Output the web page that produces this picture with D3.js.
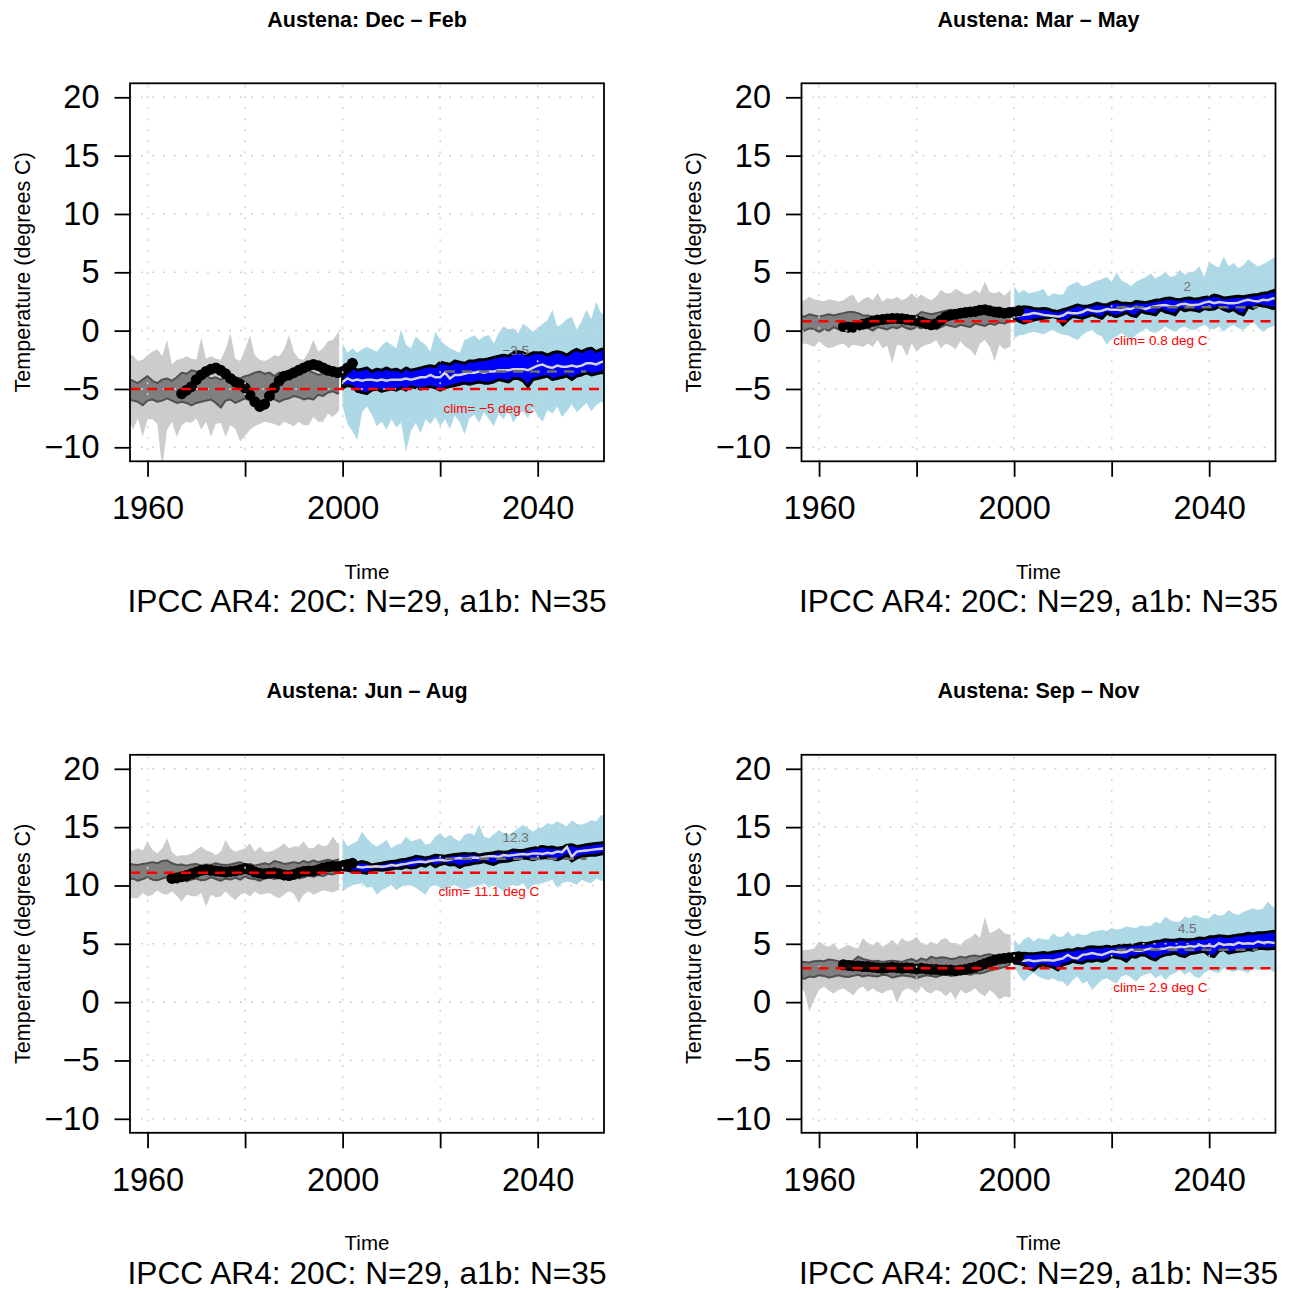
<!DOCTYPE html>
<html>
<head>
<meta charset="utf-8">
<title>Austena seasonal temperature, IPCC AR4</title>
<script src="https://cdn.jsdelivr.net/npm/d3@7"></script>
<style>
  body { margin: 0; background: #fff; }
  svg text { font-family: "Liberation Sans", Arial, Helvetica, sans-serif; fill: #000; }
</style>
</head>
<body>
<svg id="chart" width="1292" height="1291"></svg>
<script>
// years: 20C runs 1956-2000, a1b 2000-2054
const years20c = d3.range(1956, 2001);
const yearsA1b = d3.range(2000, 2055);

// ---- Dec - Feb ----
const djfGreyHi = [-2.2,-2.1,-2.6,-2.5,-2.1,-1.8,-1.6,-2.2,-0.8,-2.9,-2.5,-2.4,-2.2,-2.4,-2.5,-0.6,-2.4,-2.2,-2.4,-2.5,-1.6,-0.2,-2.4,-2.6,-1.6,-0.4,-2.1,-2.5,-2.6,-2.4,-2.1,-2.2,-1.6,-0.4,-1.8,-2.4,-2.5,-1.8,-0.8,-1.8,-1.5,-0.9,-0.8,-0.2,0.1];
const djfGreyLo = [-7.4,-8.5,-7.5,-9.1,-7.6,-7.6,-8.0,-11.8,-8.5,-7.8,-9.1,-8.1,-7.8,-7.9,-7.5,-8.5,-7.8,-9.1,-8.0,-7.9,-9.1,-8.1,-8.4,-9.5,-9.0,-8.5,-8.2,-8.0,-7.8,-7.9,-8.0,-8.2,-7.8,-8.0,-8.2,-7.8,-8.1,-8.1,-7.4,-7.8,-7.8,-7.1,-7.4,-7.0,-6.4];
const djfDarkHi = [-4.1,-4.3,-4.5,-4.2,-3.9,-4.3,-4.5,-4.2,-4.1,-4.3,-4.0,-3.6,-3.7,-3.4,-3.5,-3.6,-3.9,-4.1,-4.0,-4.2,-4.0,-3.8,-4.0,-4.1,-3.9,-3.8,-3.6,-3.5,-3.7,-3.6,-3.9,-3.6,-3.8,-4.1,-3.8,-3.6,-3.5,-3.4,-3.6,-3.8,-3.7,-3.6,-3.5,-3.6,-3.7];
const djfDarkLo = [-5.9,-6.0,-6.1,-6.4,-6.0,-5.9,-6.1,-6.0,-5.8,-6.0,-6.2,-6.1,-6.2,-6.4,-6.2,-6.1,-6.0,-5.9,-6.2,-6.6,-6.0,-5.9,-6.2,-6.0,-5.8,-6.0,-6.1,-6.0,-6.2,-5.6,-5.9,-6.1,-5.9,-5.8,-5.6,-5.7,-5.9,-5.8,-5.9,-5.5,-5.6,-5.3,-5.2,-5.4,-5.3];
const djfCyanHi = [-1.1,-1.9,-1.5,-1.9,-1.6,-1.4,-1.6,-1.8,-1.3,-0.9,-1.2,-1.5,0.1,-1.2,-1.5,-0.5,-0.9,-1.2,-1.8,-0.1,-0.8,-1.2,-1.5,-1.7,-1.9,-0.8,-0.6,-0.4,-0.8,-0.5,-0.4,-1.1,-0.2,0.35,0.1,0.2,-0.2,0.6,0.3,-0.1,0.2,0.6,0.9,1.8,0.35,0.6,1.0,1.2,0.1,0.8,1.8,1.0,2.5,1.5,1.4];
const djfCyanLo = [-6.5,-8.0,-8.6,-9.4,-7.0,-6.5,-7.2,-8.2,-7.8,-8.5,-7.6,-8.3,-7.9,-10.4,-8.6,-7.9,-8.8,-7.6,-8.0,-7.4,-8.2,-7.6,-8.4,-7.3,-7.8,-8.9,-7.5,-7.2,-7.9,-7.0,-7.6,-8.2,-7.1,-7.6,-6.8,-7.9,-7.2,-6.9,-7.5,-6.6,-7.3,-7.8,-6.8,-7.1,-6.5,-7.4,-6.9,-6.3,-7.0,-6.6,-6.2,-6.9,-6.4,-6.1,-6.3];
const djfBlueHi = [-3.5,-3.3,-3.1,-3.4,-3.3,-3.2,-3.5,-3.3,-3.4,-3.2,-3.4,-3.3,-3.5,-3.2,-3.4,-3.3,-3.2,-3.1,-3.0,-3.1,-2.7,-2.8,-2.9,-2.6,-2.7,-2.8,-2.6,-2.6,-2.5,-2.5,-2.4,-2.3,-2.2,-2.1,-2.2,-1.9,-1.8,-1.9,-2.1,-1.9,-1.9,-1.9,-2.1,-1.9,-1.8,-1.9,-2.1,-1.8,-1.6,-1.8,-1.6,-1.5,-1.8,-1.6,-1.6];
const djfBlueLo = [-4.9,-4.7,-4.8,-5.2,-5.3,-5.4,-5.1,-5.0,-5.2,-5.1,-5.0,-5.1,-4.9,-5.1,-4.8,-4.9,-5.0,-4.9,-4.8,-4.9,-5.1,-4.9,-4.8,-4.7,-4.6,-4.5,-4.6,-4.5,-4.4,-4.5,-4.5,-4.4,-4.2,-4.3,-4.4,-4.1,-4.1,-4.3,-4.8,-4.2,-4.1,-4.0,-3.9,-4.2,-4.1,-4.0,-3.9,-4.2,-3.9,-3.8,-3.6,-3.8,-3.7,-3.6,-3.6];
const djfMean = [-4.4,-4.1,-4.3,-4.2,-4.3,-4.2,-4.2,-4.3,-4.2,-4.3,-4.2,-4.2,-4.2,-4.1,-4.2,-4.1,-4.0,-4.0,-3.8,-4.0,-4.0,-3.6,-4.1,-3.8,-3.8,-3.7,-3.6,-3.6,-3.5,-3.6,-3.5,-3.5,-3.4,-3.4,-3.4,-3.3,-3.3,-3.3,-3.4,-3.2,-3.0,-2.9,-3.1,-3.2,-3.0,-3.1,-3.1,-3.0,-3.1,-3.0,-2.8,-2.8,-2.9,-2.7,-2.6];
const djfObs = [-5.4,-5.1,-4.8,-4.2,-3.8,-3.5,-3.3,-3.2,-3.4,-3.7,-4.1,-4.4,-4.6,-4.9,-5.5,-6.1,-6.5,-6.3,-5.6,-4.9,-4.3,-3.9,-3.8,-3.6,-3.4,-3.2,-3.0,-2.9,-3.0,-3.2,-3.4,-3.5,-3.6,-3.5,-3.2,-2.8];

// ---- Mar - May ----
const mamGreyHi = [2.5,2.6,2.9,2.7,2.6,2.5,2.7,2.6,2.5,2.6,2.9,3.1,2.35,2.7,2.9,2.6,3.2,2.5,2.8,2.7,2.9,2.6,2.8,3.2,2.8,3.1,2.8,2.6,2.9,3.5,3.2,3.2,3.6,3.35,3.1,3.2,3.5,3.2,4.2,3.3,3.2,3.35,3.0,3.4,3.9];
const mamGreyLo = [-1.2,-1.1,-1.2,-1.4,-0.9,-1.3,-1.5,-1.4,-1.2,-1.1,-1.5,-1.2,-1.3,-1.4,-1.1,-1.4,-0.8,-1.5,-1.3,-2.8,-1.2,-1.3,-2.2,-1.1,-1.8,-1.4,-1.2,-1.1,-0.8,-1.5,-1.1,-1.3,-1.6,-0.9,-1.4,-1.6,-2.2,-1.1,-0.8,-1.4,-2.6,-1.2,-1.6,-1.4,-1.0];
const mamDarkHi = [1.3,1.2,1.4,1.3,1.2,1.3,1.4,1.3,1.4,1.5,1.6,1.6,1.5,1.3,1.3,1.2,1.3,1.2,1.3,1.2,1.3,1.4,1.3,1.2,1.3,1.6,1.5,1.4,1.5,1.6,1.7,1.8,1.7,1.8,1.6,1.8,1.7,1.9,1.9,2.0,1.9,2.0,1.8,1.9,2.0];
const mamDarkLo = [0.1,0.0,0.2,0.1,-0.1,0.1,0.0,0.3,0.1,0.2,-0.1,0.2,0.1,0.3,0.2,0.0,0.3,0.2,0.1,0.3,0.2,0.4,0.2,0.1,0.3,0.2,0.4,0.3,0.1,0.3,0.5,0.4,0.3,0.5,0.4,0.3,0.6,0.5,0.4,0.6,0.5,0.7,0.6,0.8,0.7];
const mamCyanHi = [3.8,3.2,3.5,3.2,3.3,3.4,3.6,2.9,3.2,3.1,3.1,3.8,4.0,4.2,3.8,3.9,4.1,4.3,4.4,4.6,4.2,5.0,4.3,4.1,3.8,4.2,4.4,4.6,4.9,4.5,4.7,5.0,4.6,4.7,5.2,4.8,5.0,5.1,5.5,4.6,5.9,5.6,5.4,6.35,5.5,5.8,5.35,5.6,6.1,5.8,5.5,5.7,5.9,6.2,6.2];
const mamCyanLo = [-0.65,-0.4,-0.35,-0.2,-0.1,-0.2,-0.3,-0.1,0.05,-0.2,-0.35,-0.4,-0.6,-0.8,-0.35,-0.1,0.05,-0.3,-0.5,-1.2,-0.7,-0.5,-0.2,-0.5,-0.8,-0.35,-0.1,0.2,-0.1,-0.2,0.05,0.35,0.1,-0.1,0.2,0.35,0.1,0.05,0.3,0.5,0.2,0.1,0.35,-0.1,0.3,0.5,0.2,0.05,0.4,0.8,0.3,-0.1,0.2,0.35,0.65];
const mamBlueHi = [1.9,1.95,2.05,2.0,1.9,1.85,1.9,1.85,1.7,1.65,1.8,1.9,2.05,2.2,2.1,2.1,2.2,2.35,2.25,2.2,2.4,2.5,2.35,2.35,2.3,2.5,2.45,2.4,2.5,2.6,2.65,2.75,2.8,2.7,2.65,2.75,2.8,2.7,2.75,2.85,2.9,3.05,2.95,2.8,2.85,2.9,2.95,2.9,3.0,3.05,3.1,3.2,3.25,3.4,3.5];
const mamBlueLo = [1.05,0.8,0.65,0.8,0.9,1.0,1.05,1.1,1.2,1.05,0.5,0.9,1.2,1.15,1.05,1.2,1.35,1.2,1.05,1.5,1.3,1.2,1.35,1.55,1.3,1.2,1.65,1.5,1.45,1.35,1.8,1.6,1.5,1.35,1.9,1.7,1.8,1.75,1.65,1.9,1.8,1.85,2.05,1.8,1.65,1.8,1.5,1.35,2.05,1.9,2.2,2.1,2.05,1.9,1.95];
const mamMean = [1.2,1.3,1.35,1.4,1.5,1.45,1.35,1.3,1.25,1.2,1.3,1.55,1.5,1.5,1.6,1.8,1.7,1.65,1.7,1.85,1.8,1.8,1.75,1.9,1.85,2.05,1.95,1.85,2.0,2.1,2.15,2.2,2.1,2.05,2.25,2.3,2.2,2.2,2.25,2.4,2.5,2.35,2.45,2.4,2.35,2.35,2.4,2.55,2.65,2.55,2.5,2.65,2.6,2.75,2.8];
const mamObs = [0.35,0.3,0.3,0.45,0.55,0.65,0.8,0.9,0.95,1.0,1.05,1.05,1.0,0.95,0.9,0.85,0.75,0.6,0.5,0.6,0.9,1.2,1.35,1.4,1.5,1.55,1.6,1.65,1.75,1.8,1.7,1.6,1.55,1.5,1.55,1.6,1.7];

// ---- Jun - Aug ----
const jjaGreyHi = [12.9,13.0,13.2,13.0,13.8,13.05,12.75,13.2,14.05,12.9,12.5,12.6,12.6,12.75,13.05,13.35,13.0,12.9,12.6,12.9,13.9,13.2,12.9,13.05,13.2,13.6,12.9,13.35,12.9,12.9,13.05,13.3,13.6,13.2,13.35,13.35,13.8,13.2,13.2,13.6,13.35,13.5,14.2,13.6,13.8];
const jjaGreyLo = [9.05,8.9,8.9,9.35,9.05,9.2,9.6,9.3,9.2,9.5,9.1,8.6,9.2,9.1,9.05,9.35,8.2,9.2,9.0,9.05,9.5,9.05,8.75,9.2,9.35,9.05,9.5,9.2,9.3,9.35,9.1,8.9,9.2,9.5,9.3,8.5,9.2,9.5,9.2,9.4,9.6,9.5,9.4,9.6,9.7];
const jjaDarkHi = [11.9,11.8,11.75,11.85,11.9,12.0,11.9,12.1,12.15,11.9,11.75,11.8,11.7,11.8,11.85,11.7,11.8,11.75,11.9,11.8,11.75,11.8,11.9,12.0,11.8,11.85,11.7,11.8,11.9,11.8,12.1,12.0,11.85,11.9,12.0,11.9,12.1,11.95,12.15,12.0,12.1,12.2,12.1,12.2,12.3];
const jjaDarkLo = [10.5,10.6,10.4,10.55,10.7,10.5,10.45,10.6,10.7,10.5,10.4,10.55,10.35,10.5,10.6,10.45,10.5,10.7,10.55,10.4,10.6,10.5,10.65,10.5,10.75,10.6,10.55,10.4,10.6,10.7,10.55,10.65,10.5,10.75,10.8,10.6,10.7,10.85,10.75,10.9,10.8,11.0,10.95,11.1,11.2];
const jjaCyanHi = [14.05,13.35,13.6,13.8,14.6,14.0,13.6,13.35,13.6,13.9,13.2,13.5,13.6,14.2,13.8,13.9,14.05,13.5,13.6,14.2,14.5,14.05,14.35,14.0,13.8,14.35,14.5,14.3,15.2,14.2,14.05,14.4,14.75,14.5,14.35,14.6,14.9,15.2,14.9,14.6,14.9,15.0,15.35,15.2,15.5,15.3,15.05,15.6,15.3,15.2,15.35,15.6,15.5,16.05,16.0];
const jjaCyanLo = [9.5,9.8,10.05,10.1,10.2,9.8,9.9,9.2,9.6,9.8,10.05,9.6,9.9,10.05,10.0,9.8,9.5,9.2,9.9,10.05,9.8,9.6,9.9,10.05,9.8,9.6,9.8,9.9,10.0,10.2,9.8,10.05,9.8,9.5,9.9,10.05,9.95,10.2,9.6,10.05,10.1,10.2,10.35,10.5,9.8,10.2,10.35,10.25,10.05,10.5,10.3,10.2,10.6,10.4,10.35];
const jjaBlueHi = [12.05,11.95,11.9,11.95,12.05,11.95,11.75,11.85,11.9,12.0,12.05,12.1,12.2,12.25,12.35,12.5,12.45,12.35,12.45,12.6,12.55,12.5,12.6,12.65,12.7,12.75,12.7,12.75,12.6,12.7,12.75,12.8,12.9,12.85,12.9,13.05,13.0,13.0,13.1,13.2,13.25,13.35,13.25,13.3,13.2,13.25,13.45,13.5,13.35,13.4,13.5,13.55,13.6,13.65,13.7];
const jjaBlueLo = [11.35,11.3,11.2,11.25,11.1,11.05,11.3,11.35,11.3,11.35,11.4,11.5,11.45,11.6,11.5,11.55,11.75,11.65,11.9,11.6,11.8,11.9,11.75,11.8,11.55,11.75,11.8,11.9,11.95,12.05,11.9,11.8,12.0,12.05,12.1,12.2,12.25,12.35,12.3,12.2,12.3,12.35,12.4,12.3,12.2,12.35,12.6,12.1,12.35,12.5,12.55,12.6,12.6,12.7,12.75];
const jjaMean = [11.6,11.7,11.75,11.6,11.55,11.6,11.6,11.65,11.6,11.65,11.75,11.7,11.8,11.85,11.95,12.0,12.05,12.0,12.1,12.15,12.2,12.15,12.2,12.3,12.35,12.3,12.35,12.4,12.35,12.45,12.5,12.5,12.45,12.6,12.55,12.6,12.65,12.7,12.65,12.75,12.75,12.7,12.8,12.75,12.9,12.85,13.3,12.45,12.9,12.95,13.0,13.05,13.1,13.15,13.2];
const jjaObs = [10.6,10.65,10.75,10.85,11.0,11.15,11.3,11.35,11.3,11.25,11.2,11.15,11.2,11.25,11.35,11.45,11.35,11.15,11.05,11.0,11.05,11.1,11.0,10.9,10.85,10.95,11.1,11.2,11.25,11.25,11.35,11.5,11.6,11.65,11.6,11.7,11.8,11.9];

// ---- Sep - Nov ----
const sonGreyHi = [4.5,4.45,4.5,4.6,5.2,4.9,4.75,5.05,4.5,4.7,4.9,4.7,4.6,5.5,5.05,4.9,5.2,4.75,5.0,5.35,4.9,5.5,5.2,5.3,5.6,5.05,4.9,5.2,4.9,5.35,5.5,5.1,5.05,4.9,5.35,5.5,5.9,5.5,7.3,5.9,6.1,6.35,5.9,5.8,5.9];
const sonGreyLo = [1.35,0.9,-0.8,0.2,1.05,1.35,1.0,0.75,1.05,1.2,0.9,0.6,1.1,1.35,0.9,1.2,0.9,0.75,1.0,1.05,-0.1,0.9,1.2,1.05,0.75,1.35,0.9,0.75,1.05,0.9,0.5,0.9,0.2,1.05,0.75,0.9,1.2,0.75,0.5,1.05,0.7,0.2,0.5,0.4,0.5];
const sonDarkHi = [3.5,3.45,3.4,3.5,3.55,3.5,3.65,3.6,3.5,3.45,3.5,3.55,3.9,3.7,3.6,3.5,3.55,3.45,3.5,3.55,3.5,3.45,3.6,3.7,3.5,3.75,3.6,3.9,3.75,3.85,3.8,3.7,3.75,3.9,3.8,3.95,4.0,3.9,4.05,4.1,4.0,4.05,4.1,4.0,4.15];
const sonDarkLo = [2.1,2.0,2.2,2.15,2.3,2.25,2.1,2.2,2.3,2.2,2.15,2.25,2.35,2.2,2.3,2.25,2.2,2.35,2.3,2.1,2.2,2.3,2.25,2.2,2.05,2.2,2.3,2.25,2.15,2.3,2.35,2.25,2.3,2.4,2.45,2.35,2.5,2.45,2.55,2.7,2.8,2.9,3.0,3.2,3.3];
const sonCyanHi = [5.35,4.9,5.4,5.6,5.2,5.5,5.4,5.35,5.9,5.6,5.6,6.05,5.6,5.9,5.75,5.8,6.05,6.1,6.2,6.1,6.35,6.2,6.3,6.5,6.4,6.35,6.6,6.5,6.55,6.9,6.75,7.35,7.05,6.9,6.9,7.35,7.2,7.5,7.35,7.2,7.2,7.6,7.4,7.5,7.9,7.6,7.5,7.75,7.9,8.05,7.9,8.0,8.6,8.2,7.9];
const sonCyanLo = [3.05,2.35,1.75,2.2,2.5,2.2,2.0,1.9,2.05,1.8,1.75,1.35,1.9,2.2,1.6,1.8,1.05,1.5,1.9,2.05,1.8,1.6,2.2,2.35,2.1,1.75,2.2,2.4,2.5,2.05,2.35,1.9,2.3,2.5,2.75,2.35,2.6,2.2,2.05,2.5,2.75,2.6,2.5,2.9,2.75,2.6,2.75,2.65,2.5,2.9,2.75,2.8,3.05,2.6,2.7];
const sonBlueHi = [4.05,4.1,4.2,4.15,4.15,4.2,4.25,4.2,4.3,4.35,4.4,4.5,4.45,4.6,4.55,4.7,4.75,4.7,4.7,4.8,4.75,4.8,4.9,4.85,4.9,4.95,5.05,5.0,5.1,5.2,5.25,5.35,5.3,5.3,5.4,5.35,5.35,5.4,5.5,5.45,5.6,5.6,5.7,5.65,5.6,5.7,5.75,5.8,5.9,5.85,5.95,5.95,6.0,6.05,6.1];
const sonBlueLo = [3.35,3.3,3.2,2.9,2.75,3.1,3.2,3.05,3.0,2.75,3.2,3.3,3.5,3.4,3.35,3.55,3.5,3.6,3.5,3.6,3.9,3.8,3.75,3.5,3.9,3.85,4.05,4.0,3.75,3.6,3.9,4.05,4.1,4.2,4.0,3.9,4.15,4.2,4.3,4.35,4.0,3.9,4.4,4.5,4.2,4.3,4.35,4.4,4.5,4.45,4.6,4.6,4.55,4.6,4.6];
const sonMean = [3.6,3.6,3.55,3.6,3.5,3.55,3.6,3.6,3.55,3.65,3.75,4.05,3.8,3.75,4.05,4.1,4.2,4.1,4.05,4.2,4.35,4.3,4.25,4.3,4.5,4.4,4.4,4.5,4.6,4.5,4.55,4.6,4.7,4.65,4.75,4.7,4.8,4.75,4.9,4.8,4.85,4.75,5.05,4.9,4.95,4.9,5.1,5.0,5.05,5.0,5.2,5.1,5.15,5.1,5.1];
const sonObs = [3.2,3.15,3.1,3.1,3.05,3.05,3.0,2.95,2.9,2.95,3.0,2.95,2.9,2.95,2.9,2.85,2.9,2.85,2.8,2.8,2.75,2.75,2.75,2.7,2.75,2.8,2.9,3.0,3.15,3.3,3.45,3.6,3.7,3.75,3.8,3.85,3.9];

// per-panel scalars
const seasonTitles = ['Austena: Dec \u2013 Feb', 'Austena: Mar \u2013 May', 'Austena: Jun \u2013 Aug', 'Austena: Sep \u2013 Nov'];
const climValues = [-5, 0.8, 11.1, 2.9];
const futureMeans = [-3.5, 2, 12.3, 4.5];
const obsStartYears = [1967, 1965, 1965, 1965];
const yTicks = [-10, -5, 0, 5, 10, 15, 20];
const xTicks = [1960, 1980, 2000, 2020, 2040];
const xLabelled = [1960, 2000, 2040];
const subtitle = 'IPCC AR4: 20C: N=29, a1b: N=35';

const panels = [
  { grey: [djfGreyLo, djfGreyHi], dark: [djfDarkLo, djfDarkHi], cyan: [djfCyanLo, djfCyanHi], blue: [djfBlueLo, djfBlueHi], mean: djfMean, obs: djfObs },
  { grey: [mamGreyLo, mamGreyHi], dark: [mamDarkLo, mamDarkHi], cyan: [mamCyanLo, mamCyanHi], blue: [mamBlueLo, mamBlueHi], mean: mamMean, obs: mamObs },
  { grey: [jjaGreyLo, jjaGreyHi], dark: [jjaDarkLo, jjaDarkHi], cyan: [jjaCyanLo, jjaCyanHi], blue: [jjaBlueLo, jjaBlueHi], mean: jjaMean, obs: jjaObs },
  { grey: [sonGreyLo, sonGreyHi], dark: [sonDarkLo, sonDarkHi], cyan: [sonCyanLo, sonCyanHi], blue: [sonBlueLo, sonBlueHi], mean: sonMean, obs: sonObs }
];

const minus = v => String(v).replace('-', '\u2212');

const svg = d3.select('#chart');
const step = 671.5;

panels.forEach((p, k) => {
  const ox = (k % 2) * step, oy = Math.floor(k / 2) * step;
  const left = 130 + ox, right = 604 + ox, top = 83.3 + oy, bottom = 461.3 + oy;

  const x = d3.scaleLinear().domain([1956.4, 2053.6]).range([left, right]);
  const y = d3.scaleLinear().domain([-11.2, 21.2]).range([bottom, top]);

  const g = svg.append('g');
  const defs = g.append('defs');
  defs.append('clipPath').attr('id', 'box' + k)
    .append('rect').attr('x', left).attr('y', top).attr('width', right - left).attr('height', bottom - top);
  defs.append('clipPath').attr('id', 'c20' + k)
    .append('rect').attr('x', left).attr('y', top).attr('width', x(2000) - 3.5 - left).attr('height', bottom - top);

  const plot = g.append('g').attr('clip-path', 'url(#box' + k + ')');

  const band = (yrs, lo, hi) => d3.area()
    .x((d, i) => x(yrs[i]))
    .y0((d, i) => y(lo[i]))
    .y1((d, i) => y(hi[i]))(yrs);
  const line = (yrs, vals) => d3.line()
    .x((d, i) => x(yrs[i]))
    .y((d, i) => y(vals[i]))(yrs);

  // 20C ensemble
  const past = plot.append('g').attr('clip-path', 'url(#c20' + k + ')');
  past.append('path').attr('d', band(years20c, p.grey[0], p.grey[1]))
    .attr('fill', '#cccccc');
  past.append('path').attr('d', band(years20c, p.dark[0], p.dark[1]))
    .attr('fill', '#7f7f7f').attr('stroke', '#505050').attr('stroke-width', 2)
    .attr('stroke-linejoin', 'round');

  // a1b ensemble
  plot.append('path').attr('d', band(yearsA1b, p.cyan[0], p.cyan[1]))
    .attr('fill', '#add8e6');
  plot.append('path').attr('d', band(yearsA1b, p.blue[0], p.blue[1]))
    .attr('fill', '#0000ff').attr('stroke', '#000').attr('stroke-width', 3)
    .attr('stroke-linejoin', 'round');
  plot.append('path').attr('d', line(yearsA1b, p.mean))
    .attr('fill', 'none').attr('stroke', '#d3d3d3').attr('stroke-width', 2.5);

  // observations
  const obsYears = d3.range(obsStartYears[k], obsStartYears[k] + p.obs.length);
  plot.append('path').attr('d', line(obsYears, p.obs))
    .attr('fill', 'none').attr('stroke', '#000').attr('stroke-width', 2.5);
  plot.append('g').selectAll('circle')
    .data(p.obs)
    .enter()
    .append('circle')
    .attr('cx', (d, i) => x(obsYears[i]))
    .attr('cy', d => y(d))
    .attr('r', 5.5)
    .attr('fill', '#000');

  // dotted grid
  const grid = plot.append('g')
    .attr('stroke', '#d3d3d3').attr('stroke-width', 1.6).attr('stroke-dasharray', '2,9');
  grid.selectAll('.gx').data(xTicks).enter().append('line')
    .attr('x1', d => x(d)).attr('x2', d => x(d)).attr('y1', bottom).attr('y2', top);
  grid.selectAll('.gy').data(yTicks).enter().append('line')
    .attr('y1', d => y(d)).attr('y2', d => y(d)).attr('x1', left).attr('x2', right);

  // climatology and future mean
  plot.append('line')
    .attr('x1', left).attr('x2', right).attr('y1', y(climValues[k])).attr('y2', y(climValues[k]))
    .attr('stroke', '#ff0000').attr('stroke-width', 2.5).attr('stroke-dasharray', '10,7');
  plot.append('line')
    .attr('x1', x(2021)).attr('x2', x(2050)).attr('y1', y(futureMeans[k])).attr('y2', y(futureMeans[k]))
    .attr('stroke', '#6e6e6e').attr('stroke-width', 2.5).attr('stroke-dasharray', '10,7');

  g.append('text')
    .attr('x', x(2030)).attr('y', y(climValues[k]) + 23.7)
    .attr('text-anchor', 'middle').attr('font-size', 13.5).style('fill', '#ff0000')
    .text('clim= ' + minus(climValues[k]) + ' deg C');
  g.append('text')
    .attr('x', x(2035.5)).attr('y', y(futureMeans[k]) - 16.7)
    .attr('text-anchor', 'middle').attr('font-size', 13.5).style('fill', '#6e6e6e')
    .text(minus(futureMeans[k]));

  // box
  g.append('rect')
    .attr('x', left).attr('y', top).attr('width', right - left).attr('height', bottom - top)
    .attr('fill', 'none').attr('stroke', '#000').attr('stroke-width', 1.8);

  // axes
  const yAxis = g.append('g').attr('transform', 'translate(' + left + ',0)')
    .call(d3.axisLeft(y).tickValues(yTicks).tickSize(15.5).tickPadding(15).tickFormat(minus));
  const xAxis = g.append('g').attr('transform', 'translate(0,' + bottom + ')')
    .call(d3.axisBottom(x).tickValues(xTicks).tickSize(15.5).tickPadding(19.5)
      .tickFormat(d => xLabelled.includes(d) ? d : ''));
  [yAxis, xAxis].forEach(a => {
    a.select('.domain').remove();
    a.selectAll('line').attr('stroke', '#000').attr('stroke-width', 1.8);
    a.selectAll('text').attr('font-size', 32.5).attr('font-family', '"Liberation Sans", Arial, sans-serif');
  });

  // titles
  g.append('text')
    .attr('x', (left + right) / 2).attr('y', 26.5 + oy)
    .attr('text-anchor', 'middle').attr('font-size', 21.5).attr('font-weight', 'bold')
    .text(seasonTitles[k]);
  g.append('text')
    .attr('x', (left + right) / 2).attr('y', 578.5 + oy)
    .attr('text-anchor', 'middle').attr('font-size', 20.5)
    .text('Time');
  g.append('text')
    .attr('x', (left + right) / 2).attr('y', 612.3 + oy)
    .attr('text-anchor', 'middle').attr('font-size', 31.7)
    .text(subtitle);
  g.append('text')
    .attr('transform', 'translate(' + (29.5 + ox) + ',' + ((top + bottom) / 2) + ') rotate(-90)')
    .attr('text-anchor', 'middle').attr('font-size', 21.5)
    .text('Temperature (degrees C)');
});
</script>
</body>
</html>
